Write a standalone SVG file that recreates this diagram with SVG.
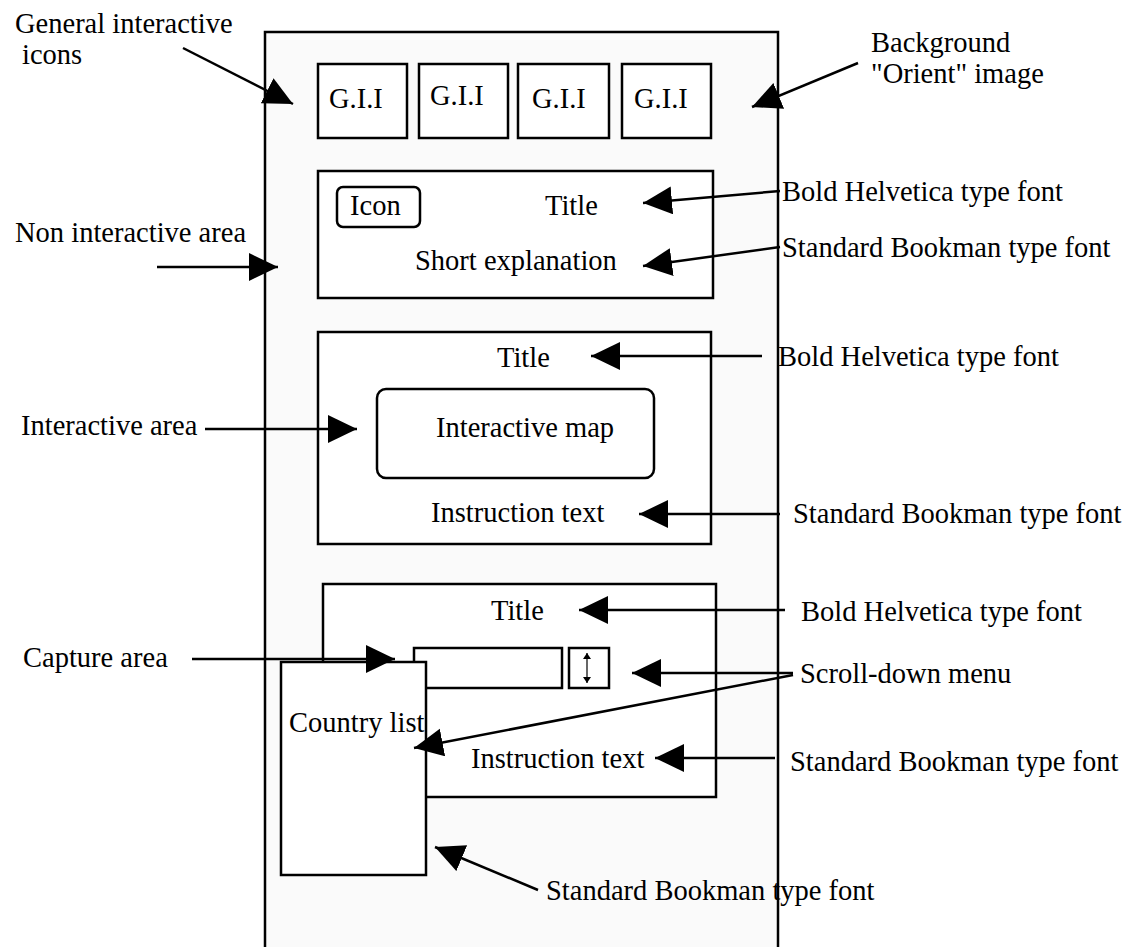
<svg xmlns="http://www.w3.org/2000/svg" width="1130" height="947" viewBox="0 0 1130 947">
<style>
text{font-family:"Liberation Serif","Times New Roman",serif;font-size:28.5px;fill:#000}
.box{fill:#fff;stroke:#000;stroke-width:2.5}
.panel{fill:#fafafa;stroke:#000;stroke-width:2.5}
.ln{fill:none;stroke:#000;stroke-width:2.5;marker-end:url(#ah)}
</style>
<defs>
<marker id="ah" markerUnits="userSpaceOnUse" markerWidth="32" markerHeight="30" refX="29" refY="14" orient="auto">
<path d="M0,0 L29,14 L0,28 Z" fill="#000"/>
</marker>
<marker id="sa" markerUnits="userSpaceOnUse" markerWidth="10" markerHeight="10" refX="6" refY="4" orient="auto">
<path d="M0,0 L6,4 L0,8 Z" fill="#000"/>
</marker>
</defs>
<rect width="1130" height="947" fill="#fff"/>
<g id="panel"><rect class="panel" x="265" y="32" width="513" height="930"/></g>
<g id="gii1"><rect class="box" x="318" y="64" width="89" height="74"/><text x="329" y="108">G.I.I</text></g>
<g id="gii2"><rect class="box" x="419" y="64" width="89" height="74"/><text x="430" y="105">G.I.I</text></g>
<g id="gii3"><rect class="box" x="518" y="64" width="91" height="74"/><text x="532" y="108">G.I.I</text></g>
<g id="gii4"><rect class="box" x="622" y="64" width="89" height="74"/><text x="634" y="108">G.I.I</text></g>
<g id="header"><rect class="box" x="318" y="171" width="395" height="127"/>
<rect class="box" x="337" y="187" width="83" height="40" rx="6"/>
<text x="350" y="215">Icon</text>
<text x="545" y="215">Title</text>
<text x="415" y="270">Short explanation</text></g>
<g id="interactive"><rect class="box" x="318" y="332" width="393" height="212"/>
<text x="497" y="367">Title</text>
<rect class="box" x="377" y="389" width="277" height="89" rx="9"/>
<text x="436" y="437">Interactive map</text>
<text x="431" y="522">Instruction text</text></g>
<g id="capture"><rect class="box" x="323" y="584" width="393" height="213"/>
<text x="491" y="620">Title</text>
<rect class="box" x="414" y="648" width="148" height="40"/>
<rect class="box" x="569" y="648" width="40" height="40"/>
<line x1="587" y1="668" x2="587" y2="653" stroke="#000" stroke-width="1.2" marker-end="url(#sa)"/>
<line x1="587" y1="668" x2="587" y2="683" stroke="#000" stroke-width="1.2" marker-end="url(#sa)"/>
<text x="471" y="768">Instruction text</text></g>
<g id="countrylist"><rect class="box" x="281" y="662" width="145" height="213"/>
<text x="289" y="732">Country list</text></g>
<g id="labels">
<text x="15" y="33">General interactive</text>
<text x="22" y="64">icons</text>
<text x="871" y="52">Background</text>
<text x="871" y="83">"Orient" image</text>
<text x="15" y="242">Non interactive area</text>
<text x="21" y="435">Interactive area</text>
<text x="23" y="667">Capture area</text>
<text x="782" y="201">Bold Helvetica type font</text>
<text x="782" y="257">Standard Bookman type font</text>
<text x="778" y="366">Bold Helvetica type font</text>
<text x="793" y="523">Standard Bookman type font</text>
<text x="801" y="621">Bold Helvetica type font</text>
<text x="800" y="683">Scroll-down menu</text>
<text x="790" y="771">Standard Bookman type font</text>
<text x="546" y="900">Standard Bookman type font</text>
</g>
<g id="connectors">
<line class="ln" x1="183" y1="48" x2="293" y2="104"/>
<line class="ln" x1="858" y1="63" x2="752" y2="107"/>
<line class="ln" x1="157" y1="267" x2="278" y2="267"/>
<line class="ln" x1="780" y1="191" x2="643" y2="203"/>
<line class="ln" x1="780" y1="247" x2="643" y2="266"/>
<line class="ln" x1="762" y1="356" x2="591" y2="356"/>
<line class="ln" x1="205" y1="429" x2="357" y2="429"/>
<line class="ln" x1="780" y1="514" x2="639" y2="514"/>
<line class="ln" x1="785" y1="610" x2="579" y2="610"/>
<line class="ln" x1="192" y1="659" x2="395" y2="659"/>
<line class="ln" x1="793" y1="673" x2="632" y2="673"/>
<line class="ln" x1="793" y1="675" x2="414" y2="748"/>
<line class="ln" x1="775" y1="758" x2="655" y2="758"/>
<line class="ln" x1="538" y1="890" x2="435" y2="847"/>
</g>
</svg>
